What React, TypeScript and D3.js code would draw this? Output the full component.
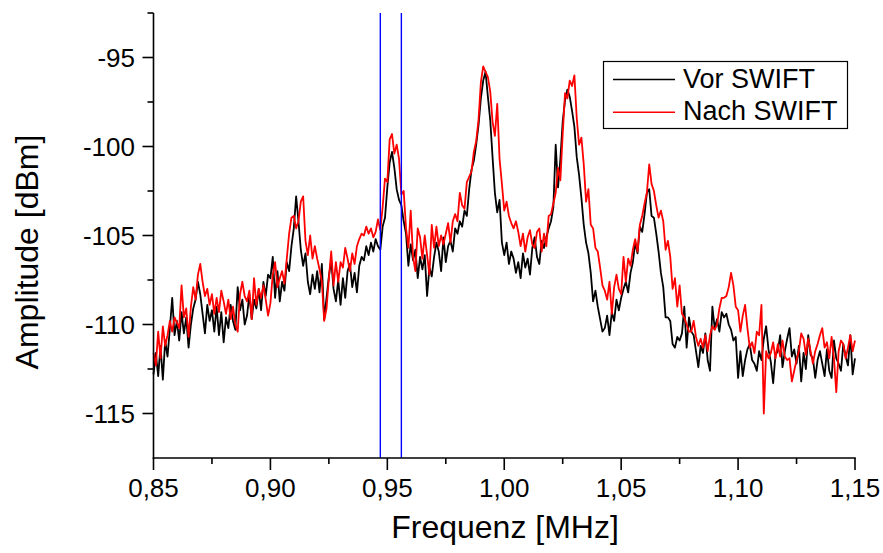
import React from "react";
import * as d3 from "d3";

// Frequency grid: 0.850 … 1.150 MHz, one sample every 0.001 MHz
const FREQ_START = 0.85;
const FREQ_STEP = 0.001;

// Amplitude [dBm] before SWIFT (black)
const vorSwift: number[] = [
  -112.8, -111.6, -112.9, -111.2, -113.1, -110.9, -111.8, -110.2, -108.5, -110.6,
  -109.8, -110.9, -109.3, -110.5, -109.6, -111.3, -110.0, -109.1, -108.6, -107.6,
  -108.3, -109.4, -110.5, -108.9, -109.8, -109.2, -110.4, -109.0, -110.6, -109.3,
  -111.0, -109.6, -110.2, -108.9, -109.8, -110.3, -107.9, -109.2, -108.6, -110.0,
  -109.5, -108.3, -109.7, -108.6, -109.1, -108.0, -109.2, -107.6, -108.4, -107.2,
  -107.4, -106.2, -108.5, -107.0, -108.7, -107.6, -108.1, -106.5, -107.0, -105.6,
  -104.6, -102.8, -104.2, -105.8, -106.7, -106.0, -107.6, -108.3, -107.2, -108.0,
  -107.0, -108.2, -106.6, -109.7, -108.5, -107.3, -106.4, -108.0, -108.7, -107.5,
  -108.9, -107.4, -108.5, -107.0, -106.6, -107.9, -107.1, -108.2, -106.7, -106.2,
  -106.4, -105.6, -106.1, -105.4, -105.9, -105.2, -105.6, -105.8, -104.5, -104.0,
  -102.3, -100.9, -100.3, -101.2, -102.4, -103.0, -103.3, -104.2, -104.9, -106.7,
  -105.5, -106.4, -105.8, -107.4, -106.2, -106.9, -106.1, -108.4, -106.8, -107.3,
  -106.2, -105.4, -105.9, -107.0, -105.1, -106.5, -105.6, -105.3, -105.9, -104.6,
  -104.9, -104.2, -104.5, -103.6, -103.9, -102.4, -101.3, -100.8, -99.9, -98.8,
  -97.3, -96.3, -95.8, -97.2, -98.5, -100.6, -102.6, -103.7, -103.0, -105.4,
  -106.1, -105.4, -106.6, -105.9, -106.3, -107.1, -106.5, -107.4, -106.0, -106.8,
  -106.3, -107.2, -105.7, -105.1, -106.2, -106.6, -105.3, -105.7, -105.1, -104.6,
  -104.2, -103.4, -99.9, -102.3, -100.7, -98.6, -97.4, -96.8, -97.2, -98.0,
  -98.9, -100.6, -101.6, -102.9, -104.4, -105.4, -106.0, -107.1, -108.7, -108.1,
  -109.0, -109.7, -110.4, -110.2, -109.5, -110.6, -109.3, -109.8, -108.6, -109.2,
  -108.5, -108.0, -107.6, -108.2, -107.1, -106.5, -105.4, -106.0, -104.5, -104.8,
  -103.8, -102.6, -102.4, -103.9, -104.0, -104.9, -105.9, -107.1, -107.9, -109.6,
  -109.6, -109.8, -111.1, -111.3, -110.7, -110.9, -110.5, -109.0, -111.3, -109.6,
  -110.4, -110.6, -111.5, -112.4, -111.2, -111.6, -110.5, -112.0, -112.6, -109.0,
  -110.2, -109.7, -110.4, -109.3, -109.6, -109.4, -110.0, -110.3, -110.9, -110.7,
  -113.0, -111.5, -112.9, -112.0, -111.4, -111.1, -112.0, -112.2, -112.6, -111.5,
  -112.0, -110.8, -110.1, -111.4, -112.1, -113.3, -111.7, -111.5, -110.6, -112.4,
  -111.5, -110.8, -110.2, -111.8, -111.4, -112.2, -111.2, -113.2, -111.6, -112.5,
  -110.6, -111.7, -111.9, -113.0, -112.0, -111.5, -112.2, -112.9, -111.4, -112.6,
  -113.0, -110.9, -111.9, -112.2, -112.6, -111.1, -111.8, -112.3, -110.6, -112.8, -111.9,
];

// Amplitude [dBm] after SWIFT (red)
const nachSwift: number[] = [
  -111.6, -112.3, -110.4, -111.9, -110.1, -111.2, -110.6, -109.8, -110.4, -109.6,
  -109.9, -110.2, -107.8, -109.6, -109.1, -110.7, -109.0, -107.9, -108.6, -107.2,
  -106.6, -107.6, -108.4, -108.0, -108.9, -108.3, -109.4, -108.5, -109.3, -108.1,
  -108.7, -109.4, -108.6, -109.7, -109.0, -110.0, -110.4, -108.3, -107.6, -108.4,
  -108.7, -108.1, -109.7, -107.4, -108.9, -108.0, -108.5, -107.8, -108.6, -109.5,
  -108.8, -107.2, -106.5, -107.9, -107.4, -107.0, -107.7, -106.3, -104.9, -104.0,
  -103.9, -104.6, -104.2, -103.1, -102.8, -105.3, -106.1, -105.0, -106.3, -105.6,
  -106.3, -106.9, -107.6, -109.8, -109.1, -107.4, -105.9, -107.8, -106.5, -107.6,
  -106.5, -106.8, -105.7, -106.3, -107.0, -106.0, -106.6, -105.6, -105.2, -104.9,
  -105.0, -104.5, -104.9, -104.6, -105.1, -104.8, -104.1, -104.7, -103.4, -101.8,
  -102.0, -99.6, -99.3, -100.4, -99.9, -100.7, -102.7, -102.5, -104.6, -105.7,
  -103.6, -106.2, -107.0, -104.6, -105.1, -106.3, -105.0, -106.1, -107.2, -104.4,
  -105.7, -104.5, -105.6, -105.0, -105.5, -104.9, -104.3, -105.4, -104.2, -103.8,
  -104.2, -102.6, -103.3, -103.5, -102.0, -101.7, -101.4, -100.3, -99.7, -98.5,
  -96.4, -95.5, -95.8, -96.1, -96.9, -98.6, -99.4, -97.6, -100.7, -102.1,
  -103.6, -103.1, -103.9, -104.3, -104.6, -104.2, -104.8, -105.6, -104.9, -105.9,
  -105.1, -104.7, -105.5, -105.7, -104.8, -104.6, -105.9, -104.9, -105.6, -103.9,
  -103.8, -103.2, -102.6, -101.2, -101.9, -99.3, -97.0, -97.3, -96.3, -96.6,
  -96.0, -98.4, -99.9, -99.5, -101.0, -103.1, -102.4, -104.4, -104.6, -105.7,
  -105.9, -106.8, -107.8, -108.1, -108.6, -107.6, -109.4, -107.9, -107.2, -108.0,
  -108.3, -106.2, -107.6, -106.3, -106.7, -105.8, -105.2, -105.9, -104.4, -103.9,
  -103.2, -102.6, -101.0, -102.1, -102.5, -103.3, -104.0, -103.6, -104.2, -105.8,
  -105.3, -106.2, -108.0, -107.4, -109.0, -107.8, -109.4, -109.6, -110.0, -110.4,
  -110.4, -109.8, -110.7, -111.2, -110.8, -111.3, -110.6, -111.5, -110.6, -110.1,
  -110.3, -110.0, -109.1, -108.5, -108.5, -108.4, -107.9, -107.1, -107.8, -109.0,
  -109.2, -110.4, -109.5, -108.9, -110.2, -111.3, -111.0, -111.6, -110.4, -110.6,
  -108.9, -115.0, -111.5, -111.9, -111.6, -111.0, -111.9, -111.1, -111.8, -110.9,
  -111.8, -112.0, -111.9, -113.2, -112.6, -112.0, -111.5, -110.5, -110.8, -111.7,
  -110.8, -111.5, -112.2, -111.5, -111.1, -110.6, -110.2, -111.3, -111.0, -111.9,
  -110.7, -111.9, -113.8, -111.5, -110.9, -111.1, -111.9, -111.3, -110.6, -111.5, -110.9,
];

// SWIFT excitation window markers [MHz]
const markerFreqs = [0.947, 0.956];

const xMajorTicks = [0.85, 0.9, 0.95, 1.0, 1.05, 1.1, 1.15];
const xMinorTicks = [0.875, 0.925, 0.975, 1.025, 1.075, 1.125];
const yMajorTicks = [-95, -100, -105, -110, -115];
const yMinorTicks = [-92.5, -97.5, -102.5, -107.5, -112.5];

const legendItems = [
  { label: "Vor SWIFT", color: "#000000" },
  { label: "Nach SWIFT", color: "#ff0000" },
];

const W = 883;
const H = 553;
const FONT = "'Liberation Sans', Arial, Helvetica, sans-serif";

export default function App() {
  const x = d3.scaleLinear().domain([0.85, 1.15]).range([153.5, 855]);
  const y = d3.scaleLinear().domain([-117.5, -92.5]).range([458, 13]);

  const line = d3
    .line<number>()
    .x((_, i) => x(FREQ_START + i * FREQ_STEP))
    .y((v) => y(v));

  const fmtX = (v: number) => v.toFixed(2).replace(".", ",");
  const x0 = x.range()[0];
  const x1 = x.range()[1];
  const yTop = y.range()[1];
  const yBot = y.range()[0];

  return (
    <svg
      width={W}
      height={H}
      style={{ position: "absolute", left: 0, top: 0, background: "#fff" }}
      fontFamily={FONT}
    >
      <rect width={W} height={H} fill="#fff" />
      {/* data */}
      <path d={line(vorSwift) || ""} fill="none" stroke="#000" strokeWidth={1.8} strokeLinejoin="round" />
      <path d={line(nachSwift) || ""} fill="none" stroke="#ff0000" strokeWidth={1.8} strokeLinejoin="round" />
      {/* markers */}
      {markerFreqs.map((f) => (
        <line key={f} x1={x(f)} x2={x(f)} y1={yTop} y2={yBot} stroke="#0000ff" strokeWidth={1.4} />
      ))}
      {/* axes */}
      <line x1={x0} x2={x0} y1={yTop} y2={yBot + 0.75} stroke="#000" strokeWidth={1.6} />
      <line x1={x0 - 0.75} x2={x1 + 0.8} y1={yBot} y2={yBot} stroke="#000" strokeWidth={1.6} />
      {yMajorTicks.map((t) => (
        <g key={"ym" + t}>
          <line x1={x0 - 11} x2={x0} y1={y(t)} y2={y(t)} stroke="#000" strokeWidth={1.6} />
          <text x={135} y={y(t) + 9} textAnchor="end" fontSize={26} fill="#000">
            {String(t)}
          </text>
        </g>
      ))}
      {yMinorTicks.map((t) => (
        <line key={"yn" + t} x1={x0 - 6} x2={x0} y1={y(t)} y2={y(t)} stroke="#000" strokeWidth={1.6} />
      ))}
      {xMajorTicks.map((t) => (
        <g key={"xm" + t}>
          <line x1={x(t)} x2={x(t)} y1={yBot} y2={yBot + 12} stroke="#000" strokeWidth={1.6} />
          <text x={x(t)} y={496.5} textAnchor="middle" fontSize={26} fill="#000">
            {fmtX(t)}
          </text>
        </g>
      ))}
      {xMinorTicks.map((t) => (
        <line key={"xn" + t} x1={x(t)} x2={x(t)} y1={yBot} y2={yBot + 6} stroke="#000" strokeWidth={1.6} />
      ))}
      {/* axis titles */}
      <text x={505} y={538} textAnchor="middle" fontSize={32} fill="#000">
        Frequenz [MHz]
      </text>
      <text
        transform={`translate(38, ${252}) rotate(-90)`}
        textAnchor="middle"
        fontSize={32}
        fill="#000"
      >
        Amplitude [dBm]
      </text>
      {/* legend */}
      <rect x={603.5} y={61.5} width={244} height={67} fill="#fff" stroke="#000" strokeWidth={1.2} />
      {legendItems.map((it, i) => (
        <g key={it.label}>
          <line x1={613} x2={675} y1={79.5 + i * 32.7} y2={79.5 + i * 32.7} stroke={it.color} strokeWidth={1.5} />
          <text x={683} y={87.5 + i * 32.7} fontSize={27} fill="#000">
            {it.label}
          </text>
        </g>
      ))}
    </svg>
  );
}
